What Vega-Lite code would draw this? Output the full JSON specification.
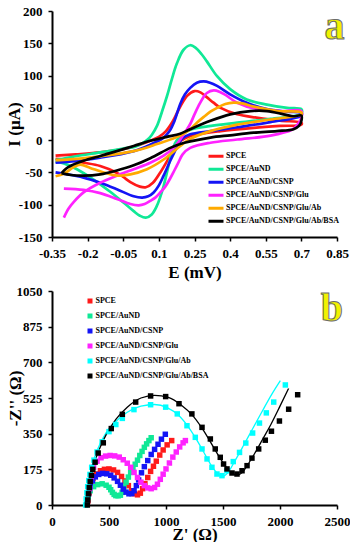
{
"$schema":"https://vega.github.io/schema/vega-lite/v6.json",
"padding":{"left":5,"top":5,"right":0,"bottom":0},
"background":"white",
"bounds":"flush",
"spacing":54,
"resolve":{"scale":{"color":"independent","stroke":"independent"},"legend":{"color":"independent"}},
"datasets":{
"cv":[
{"s":"SPCE","i":0,"E":-0.335,"I":-24},{"s":"SPCE","i":1,"E":-0.25,"I":-22},{"s":"SPCE","i":2,"E":-0.147,"I":-19},{"s":"SPCE","i":3,"E":-0.05,"I":-14},{"s":"SPCE","i":4,"E":0.02,"I":-7},{"s":"SPCE","i":5,"E":0.064,"I":-1},{"s":"SPCE","i":6,"E":0.1,"I":5},{"s":"SPCE","i":7,"E":0.13,"I":14},{"s":"SPCE","i":8,"E":0.16,"I":30},{"s":"SPCE","i":9,"E":0.19,"I":52},{"s":"SPCE","i":10,"E":0.22,"I":69},{"s":"SPCE","i":11,"E":0.25,"I":76},{"s":"SPCE","i":12,"E":0.275,"I":74},{"s":"SPCE","i":13,"E":0.3,"I":67},{"s":"SPCE","i":14,"E":0.33,"I":58},{"s":"SPCE","i":15,"E":0.36,"I":50},{"s":"SPCE","i":16,"E":0.43,"I":40},{"s":"SPCE","i":17,"E":0.51,"I":35},{"s":"SPCE","i":18,"E":0.61,"I":30},{"s":"SPCE","i":19,"E":0.7,"I":27},
{"s":"SPCE","i":20,"E":0.7,"I":24},{"s":"SPCE","i":21,"E":0.61,"I":22},{"s":"SPCE","i":22,"E":0.5,"I":19},{"s":"SPCE","i":23,"E":0.36,"I":14},{"s":"SPCE","i":24,"E":0.25,"I":8},{"s":"SPCE","i":25,"E":0.21,"I":3},{"s":"SPCE","i":26,"E":0.183,"I":-4},{"s":"SPCE","i":27,"E":0.148,"I":-24},{"s":"SPCE","i":28,"E":0.106,"I":-50},{"s":"SPCE","i":29,"E":0.075,"I":-66},{"s":"SPCE","i":30,"E":0.045,"I":-73},{"s":"SPCE","i":31,"E":0.02,"I":-72},{"s":"SPCE","i":32,"E":-0.02,"I":-65},{"s":"SPCE","i":33,"E":-0.05,"I":-57},{"s":"SPCE","i":34,"E":-0.08,"I":-50},{"s":"SPCE","i":35,"E":-0.147,"I":-40},{"s":"SPCE","i":36,"E":-0.217,"I":-35},{"s":"SPCE","i":37,"E":-0.3,"I":-30},{"s":"SPCE","i":38,"E":-0.335,"I":-29},
{"s":"SPCE/AuND","i":0,"E":-0.335,"I":-31},{"s":"SPCE/AuND","i":1,"E":-0.25,"I":-25},{"s":"SPCE/AuND","i":2,"E":-0.147,"I":-19},{"s":"SPCE/AuND","i":3,"E":-0.05,"I":-13},{"s":"SPCE/AuND","i":4,"E":0.0,"I":-10},{"s":"SPCE/AuND","i":5,"E":0.03,"I":-5},{"s":"SPCE/AuND","i":6,"E":0.05,"I":0},{"s":"SPCE/AuND","i":7,"E":0.07,"I":8},{"s":"SPCE/AuND","i":8,"E":0.092,"I":22},{"s":"SPCE/AuND","i":9,"E":0.113,"I":44},{"s":"SPCE/AuND","i":10,"E":0.134,"I":68},{"s":"SPCE/AuND","i":11,"E":0.155,"I":95},{"s":"SPCE/AuND","i":12,"E":0.176,"I":119},{"s":"SPCE/AuND","i":13,"E":0.204,"I":140},{"s":"SPCE/AuND","i":14,"E":0.232,"I":147},{"s":"SPCE/AuND","i":15,"E":0.255,"I":143},{"s":"SPCE/AuND","i":16,"E":0.28,"I":133},{"s":"SPCE/AuND","i":17,"E":0.302,"I":122},{"s":"SPCE/AuND","i":18,"E":0.345,"I":99},{"s":"SPCE/AuND","i":19,"E":0.4,"I":79},{"s":"SPCE/AuND","i":20,"E":0.47,"I":63},{"s":"SPCE/AuND","i":21,"E":0.555,"I":55},{"s":"SPCE/AuND","i":22,"E":0.64,"I":50},{"s":"SPCE/AuND","i":23,"E":0.7,"I":48},
{"s":"SPCE/AuND","i":24,"E":0.7,"I":41},{"s":"SPCE/AuND","i":25,"E":0.57,"I":33},{"s":"SPCE/AuND","i":26,"E":0.43,"I":27},{"s":"SPCE/AuND","i":27,"E":0.32,"I":22},{"s":"SPCE/AuND","i":28,"E":0.232,"I":16},{"s":"SPCE/AuND","i":29,"E":0.2,"I":9},{"s":"SPCE/AuND","i":30,"E":0.176,"I":0},{"s":"SPCE/AuND","i":31,"E":0.16,"I":-12},{"s":"SPCE/AuND","i":32,"E":0.148,"I":-28},{"s":"SPCE/AuND","i":33,"E":0.134,"I":-50},{"s":"SPCE/AuND","i":34,"E":0.12,"I":-71},{"s":"SPCE/AuND","i":35,"E":0.105,"I":-89},{"s":"SPCE/AuND","i":36,"E":0.09,"I":-103},{"s":"SPCE/AuND","i":37,"E":0.07,"I":-115},{"s":"SPCE/AuND","i":38,"E":0.045,"I":-120},{"s":"SPCE/AuND","i":39,"E":0.02,"I":-117},{"s":"SPCE/AuND","i":40,"E":-0.006,"I":-110},{"s":"SPCE/AuND","i":41,"E":-0.048,"I":-97},{"s":"SPCE/AuND","i":42,"E":-0.105,"I":-80},{"s":"SPCE/AuND","i":43,"E":-0.175,"I":-61},{"s":"SPCE/AuND","i":44,"E":-0.245,"I":-45},{"s":"SPCE/AuND","i":45,"E":-0.3,"I":-36},{"s":"SPCE/AuND","i":46,"E":-0.335,"I":-33},
{"s":"SPCE/AuND/CSNP","i":0,"E":-0.335,"I":-35},{"s":"SPCE/AuND/CSNP","i":1,"E":-0.3,"I":-34},{"s":"SPCE/AuND/CSNP","i":2,"E":-0.147,"I":-27},{"s":"SPCE/AuND/CSNP","i":3,"E":-0.006,"I":-17},{"s":"SPCE/AuND/CSNP","i":4,"E":0.064,"I":-7},{"s":"SPCE/AuND/CSNP","i":5,"E":0.12,"I":4},{"s":"SPCE/AuND/CSNP","i":6,"E":0.145,"I":14},{"s":"SPCE/AuND/CSNP","i":7,"E":0.165,"I":29},{"s":"SPCE/AuND/CSNP","i":8,"E":0.19,"I":56},{"s":"SPCE/AuND/CSNP","i":9,"E":0.21,"I":71},{"s":"SPCE/AuND/CSNP","i":10,"E":0.232,"I":81},{"s":"SPCE/AuND/CSNP","i":11,"E":0.26,"I":89},{"s":"SPCE/AuND/CSNP","i":12,"E":0.289,"I":91},{"s":"SPCE/AuND/CSNP","i":13,"E":0.315,"I":89},{"s":"SPCE/AuND/CSNP","i":14,"E":0.345,"I":84},{"s":"SPCE/AuND/CSNP","i":15,"E":0.4,"I":71},{"s":"SPCE/AuND/CSNP","i":16,"E":0.47,"I":58},{"s":"SPCE/AuND/CSNP","i":17,"E":0.555,"I":48},{"s":"SPCE/AuND/CSNP","i":18,"E":0.64,"I":44},{"s":"SPCE/AuND/CSNP","i":19,"E":0.7,"I":42},
{"s":"SPCE/AuND/CSNP","i":20,"E":0.7,"I":38},{"s":"SPCE/AuND/CSNP","i":21,"E":0.57,"I":28},{"s":"SPCE/AuND/CSNP","i":22,"E":0.43,"I":20},{"s":"SPCE/AuND/CSNP","i":23,"E":0.317,"I":14},{"s":"SPCE/AuND/CSNP","i":24,"E":0.232,"I":9},{"s":"SPCE/AuND/CSNP","i":25,"E":0.2,"I":3},{"s":"SPCE/AuND/CSNP","i":26,"E":0.183,"I":-6},{"s":"SPCE/AuND/CSNP","i":27,"E":0.165,"I":-19},{"s":"SPCE/AuND/CSNP","i":28,"E":0.148,"I":-32},{"s":"SPCE/AuND/CSNP","i":29,"E":0.12,"I":-55},{"s":"SPCE/AuND/CSNP","i":30,"E":0.1,"I":-70},{"s":"SPCE/AuND/CSNP","i":31,"E":0.078,"I":-81},{"s":"SPCE/AuND/CSNP","i":32,"E":0.055,"I":-87},{"s":"SPCE/AuND/CSNP","i":33,"E":0.03,"I":-89},{"s":"SPCE/AuND/CSNP","i":34,"E":-0.006,"I":-87},{"s":"SPCE/AuND/CSNP","i":35,"E":-0.077,"I":-76},{"s":"SPCE/AuND/CSNP","i":36,"E":-0.147,"I":-66},{"s":"SPCE/AuND/CSNP","i":37,"E":-0.217,"I":-58},{"s":"SPCE/AuND/CSNP","i":38,"E":-0.3,"I":-52},{"s":"SPCE/AuND/CSNP","i":39,"E":-0.335,"I":-50},
{"s":"SPCE/AuND/CSNP/Glu","i":0,"E":-0.3,"I":-120},{"s":"SPCE/AuND/CSNP/Glu","i":1,"E":-0.28,"I":-106},{"s":"SPCE/AuND/CSNP/Glu","i":2,"E":-0.259,"I":-96},{"s":"SPCE/AuND/CSNP/Glu","i":3,"E":-0.217,"I":-81},{"s":"SPCE/AuND/CSNP/Glu","i":4,"E":-0.147,"I":-66},{"s":"SPCE/AuND/CSNP/Glu","i":5,"E":-0.077,"I":-55},{"s":"SPCE/AuND/CSNP/Glu","i":6,"E":-0.006,"I":-45},{"s":"SPCE/AuND/CSNP/Glu","i":7,"E":0.064,"I":-35},{"s":"SPCE/AuND/CSNP/Glu","i":8,"E":0.12,"I":-24},{"s":"SPCE/AuND/CSNP/Glu","i":9,"E":0.162,"I":-12},{"s":"SPCE/AuND/CSNP/Glu","i":10,"E":0.19,"I":1},{"s":"SPCE/AuND/CSNP/Glu","i":11,"E":0.21,"I":12},{"s":"SPCE/AuND/CSNP/Glu","i":12,"E":0.232,"I":25},{"s":"SPCE/AuND/CSNP/Glu","i":13,"E":0.25,"I":40},{"s":"SPCE/AuND/CSNP/Glu","i":14,"E":0.267,"I":53},{"s":"SPCE/AuND/CSNP/Glu","i":15,"E":0.285,"I":65},{"s":"SPCE/AuND/CSNP/Glu","i":16,"E":0.302,"I":73},{"s":"SPCE/AuND/CSNP/Glu","i":17,"E":0.331,"I":77},{"s":"SPCE/AuND/CSNP/Glu","i":18,"E":0.355,"I":75},{"s":"SPCE/AuND/CSNP/Glu","i":19,"E":0.38,"I":70},{"s":"SPCE/AuND/CSNP/Glu","i":20,"E":0.43,"I":58},{"s":"SPCE/AuND/CSNP/Glu","i":21,"E":0.513,"I":48},{"s":"SPCE/AuND/CSNP/Glu","i":22,"E":0.611,"I":45},{"s":"SPCE/AuND/CSNP/Glu","i":23,"E":0.7,"I":45},
{"s":"SPCE/AuND/CSNP/Glu","i":24,"E":0.7,"I":35},{"s":"SPCE/AuND/CSNP/Glu","i":25,"E":0.68,"I":22},{"s":"SPCE/AuND/CSNP/Glu","i":26,"E":0.66,"I":16},{"s":"SPCE/AuND/CSNP/Glu","i":27,"E":0.57,"I":7},{"s":"SPCE/AuND/CSNP/Glu","i":28,"E":0.43,"I":1},{"s":"SPCE/AuND/CSNP/Glu","i":29,"E":0.317,"I":-4},{"s":"SPCE/AuND/CSNP/Glu","i":30,"E":0.232,"I":-12},{"s":"SPCE/AuND/CSNP/Glu","i":31,"E":0.2,"I":-22},{"s":"SPCE/AuND/CSNP/Glu","i":32,"E":0.183,"I":-34},{"s":"SPCE/AuND/CSNP/Glu","i":33,"E":0.165,"I":-47},{"s":"SPCE/AuND/CSNP/Glu","i":34,"E":0.148,"I":-59},{"s":"SPCE/AuND/CSNP/Glu","i":35,"E":0.127,"I":-72},{"s":"SPCE/AuND/CSNP/Glu","i":36,"E":0.106,"I":-81},{"s":"SPCE/AuND/CSNP/Glu","i":37,"E":0.085,"I":-89},{"s":"SPCE/AuND/CSNP/Glu","i":38,"E":0.064,"I":-94},{"s":"SPCE/AuND/CSNP/Glu","i":39,"E":0.04,"I":-99},{"s":"SPCE/AuND/CSNP/Glu","i":40,"E":0.015,"I":-101},{"s":"SPCE/AuND/CSNP/Glu","i":41,"E":-0.02,"I":-99},{"s":"SPCE/AuND/CSNP/Glu","i":42,"E":-0.077,"I":-91},{"s":"SPCE/AuND/CSNP/Glu","i":43,"E":-0.147,"I":-82},{"s":"SPCE/AuND/CSNP/Glu","i":44,"E":-0.217,"I":-77},{"s":"SPCE/AuND/CSNP/Glu","i":45,"E":-0.3,"I":-75},
{"s":"SPCE/AuND/CSNP/Glu/Ab","i":0,"E":-0.335,"I":-31},{"s":"SPCE/AuND/CSNP/Glu/Ab","i":1,"E":-0.3,"I":-30.5},{"s":"SPCE/AuND/CSNP/Glu/Ab","i":2,"E":-0.147,"I":-25},{"s":"SPCE/AuND/CSNP/Glu/Ab","i":3,"E":-0.006,"I":-17},{"s":"SPCE/AuND/CSNP/Glu/Ab","i":4,"E":0.092,"I":-6},{"s":"SPCE/AuND/CSNP/Glu/Ab","i":5,"E":0.19,"I":7},{"s":"SPCE/AuND/CSNP/Glu/Ab","i":6,"E":0.232,"I":17},{"s":"SPCE/AuND/CSNP/Glu/Ab","i":7,"E":0.26,"I":27},{"s":"SPCE/AuND/CSNP/Glu/Ab","i":8,"E":0.289,"I":36},{"s":"SPCE/AuND/CSNP/Glu/Ab","i":9,"E":0.317,"I":44},{"s":"SPCE/AuND/CSNP/Glu/Ab","i":10,"E":0.345,"I":50},{"s":"SPCE/AuND/CSNP/Glu/Ab","i":11,"E":0.38,"I":56},{"s":"SPCE/AuND/CSNP/Glu/Ab","i":12,"E":0.415,"I":58},{"s":"SPCE/AuND/CSNP/Glu/Ab","i":13,"E":0.45,"I":57},{"s":"SPCE/AuND/CSNP/Glu/Ab","i":14,"E":0.5,"I":52},{"s":"SPCE/AuND/CSNP/Glu/Ab","i":15,"E":0.6,"I":45},{"s":"SPCE/AuND/CSNP/Glu/Ab","i":16,"E":0.7,"I":43},
{"s":"SPCE/AuND/CSNP/Glu/Ab","i":17,"E":0.7,"I":40},{"s":"SPCE/AuND/CSNP/Glu/Ab","i":18,"E":0.57,"I":32},{"s":"SPCE/AuND/CSNP/Glu/Ab","i":19,"E":0.43,"I":24},{"s":"SPCE/AuND/CSNP/Glu/Ab","i":20,"E":0.317,"I":14},{"s":"SPCE/AuND/CSNP/Glu/Ab","i":21,"E":0.232,"I":2},{"s":"SPCE/AuND/CSNP/Glu/Ab","i":22,"E":0.19,"I":-9},{"s":"SPCE/AuND/CSNP/Glu/Ab","i":23,"E":0.12,"I":-30},{"s":"SPCE/AuND/CSNP/Glu/Ab","i":24,"E":0.05,"I":-45},{"s":"SPCE/AuND/CSNP/Glu/Ab","i":25,"E":-0.02,"I":-53},{"s":"SPCE/AuND/CSNP/Glu/Ab","i":26,"E":-0.077,"I":-55},{"s":"SPCE/AuND/CSNP/Glu/Ab","i":27,"E":-0.132,"I":-50},{"s":"SPCE/AuND/CSNP/Glu/Ab","i":28,"E":-0.189,"I":-43},{"s":"SPCE/AuND/CSNP/Glu/Ab","i":29,"E":-0.231,"I":-38},{"s":"SPCE/AuND/CSNP/Glu/Ab","i":30,"E":-0.26,"I":-42},{"s":"SPCE/AuND/CSNP/Glu/Ab","i":31,"E":-0.3,"I":-52},{"s":"SPCE/AuND/CSNP/Glu/Ab","i":32,"E":-0.335,"I":-56},
{"s":"SPCE/AuND/CSNP/Glu/Ab/BSA","i":0,"E":-0.31,"I":-51},{"s":"SPCE/AuND/CSNP/Glu/Ab/BSA","i":1,"E":-0.29,"I":-44},{"s":"SPCE/AuND/CSNP/Glu/Ab/BSA","i":2,"E":-0.273,"I":-40},{"s":"SPCE/AuND/CSNP/Glu/Ab/BSA","i":3,"E":-0.217,"I":-32},{"s":"SPCE/AuND/CSNP/Glu/Ab/BSA","i":4,"E":-0.147,"I":-24.5},{"s":"SPCE/AuND/CSNP/Glu/Ab/BSA","i":5,"E":-0.077,"I":-17},{"s":"SPCE/AuND/CSNP/Glu/Ab/BSA","i":6,"E":-0.006,"I":-9},{"s":"SPCE/AuND/CSNP/Glu/Ab/BSA","i":7,"E":0.064,"I":-1},{"s":"SPCE/AuND/CSNP/Glu/Ab/BSA","i":8,"E":0.134,"I":5},{"s":"SPCE/AuND/CSNP/Glu/Ab/BSA","i":9,"E":0.19,"I":10},{"s":"SPCE/AuND/CSNP/Glu/Ab/BSA","i":10,"E":0.232,"I":17},{"s":"SPCE/AuND/CSNP/Glu/Ab/BSA","i":11,"E":0.317,"I":30},{"s":"SPCE/AuND/CSNP/Glu/Ab/BSA","i":12,"E":0.4,"I":40},{"s":"SPCE/AuND/CSNP/Glu/Ab/BSA","i":13,"E":0.485,"I":45},{"s":"SPCE/AuND/CSNP/Glu/Ab/BSA","i":14,"E":0.555,"I":45},{"s":"SPCE/AuND/CSNP/Glu/Ab/BSA","i":15,"E":0.625,"I":40},{"s":"SPCE/AuND/CSNP/Glu/Ab/BSA","i":16,"E":0.665,"I":37},{"s":"SPCE/AuND/CSNP/Glu/Ab/BSA","i":17,"E":0.7,"I":38},
{"s":"SPCE/AuND/CSNP/Glu/Ab/BSA","i":18,"E":0.7,"I":30},{"s":"SPCE/AuND/CSNP/Glu/Ab/BSA","i":19,"E":0.69,"I":22},{"s":"SPCE/AuND/CSNP/Glu/Ab/BSA","i":20,"E":0.667,"I":17},{"s":"SPCE/AuND/CSNP/Glu/Ab/BSA","i":21,"E":0.597,"I":14},{"s":"SPCE/AuND/CSNP/Glu/Ab/BSA","i":22,"E":0.5,"I":11.5},{"s":"SPCE/AuND/CSNP/Glu/Ab/BSA","i":23,"E":0.4,"I":7.5},{"s":"SPCE/AuND/CSNP/Glu/Ab/BSA","i":24,"E":0.317,"I":4},{"s":"SPCE/AuND/CSNP/Glu/Ab/BSA","i":25,"E":0.232,"I":-2},{"s":"SPCE/AuND/CSNP/Glu/Ab/BSA","i":26,"E":0.19,"I":-6},{"s":"SPCE/AuND/CSNP/Glu/Ab/BSA","i":27,"E":0.148,"I":-12},{"s":"SPCE/AuND/CSNP/Glu/Ab/BSA","i":28,"E":0.064,"I":-28},{"s":"SPCE/AuND/CSNP/Glu/Ab/BSA","i":29,"E":-0.006,"I":-39},{"s":"SPCE/AuND/CSNP/Glu/Ab/BSA","i":30,"E":-0.077,"I":-47},{"s":"SPCE/AuND/CSNP/Glu/Ab/BSA","i":31,"E":-0.147,"I":-53},{"s":"SPCE/AuND/CSNP/Glu/Ab/BSA","i":32,"E":-0.217,"I":-55},{"s":"SPCE/AuND/CSNP/Glu/Ab/BSA","i":33,"E":-0.27,"I":-54},{"s":"SPCE/AuND/CSNP/Glu/Ab/BSA","i":34,"E":-0.31,"I":-51}
],
"eis":[
{"e":"SPCE","Z":315,"Zi":20},{"e":"SPCE","Z":325,"Zi":60},{"e":"SPCE","Z":340,"Zi":100},{"e":"SPCE","Z":360,"Zi":130},{"e":"SPCE","Z":390,"Zi":152},{"e":"SPCE","Z":425,"Zi":168},{"e":"SPCE","Z":460,"Zi":175},{"e":"SPCE","Z":500,"Zi":177},{"e":"SPCE","Z":540,"Zi":172},{"e":"SPCE","Z":575,"Zi":160},{"e":"SPCE","Z":610,"Zi":140},{"e":"SPCE","Z":640,"Zi":118},{"e":"SPCE","Z":670,"Zi":95},{"e":"SPCE","Z":700,"Zi":70},{"e":"SPCE","Z":725,"Zi":55},{"e":"SPCE","Z":750,"Zi":50},{"e":"SPCE","Z":775,"Zi":58},{"e":"SPCE","Z":795,"Zi":80},{"e":"SPCE","Z":815,"Zi":105},{"e":"SPCE","Z":840,"Zi":135},{"e":"SPCE","Z":865,"Zi":165},{"e":"SPCE","Z":890,"Zi":190},{"e":"SPCE","Z":915,"Zi":215},{"e":"SPCE","Z":945,"Zi":245},{"e":"SPCE","Z":975,"Zi":270},{"e":"SPCE","Z":1010,"Zi":295},{"e":"SPCE","Z":1050,"Zi":316},
{"e":"SPCE/AuND","Z":305,"Zi":10},{"e":"SPCE/AuND","Z":318,"Zi":40},{"e":"SPCE/AuND","Z":335,"Zi":70},{"e":"SPCE/AuND","Z":365,"Zi":90},{"e":"SPCE/AuND","Z":400,"Zi":100},{"e":"SPCE/AuND","Z":440,"Zi":104},{"e":"SPCE/AuND","Z":475,"Zi":97},{"e":"SPCE/AuND","Z":500,"Zi":87},{"e":"SPCE/AuND","Z":515,"Zi":75},{"e":"SPCE/AuND","Z":530,"Zi":62},{"e":"SPCE/AuND","Z":545,"Zi":52},{"e":"SPCE/AuND","Z":560,"Zi":46},{"e":"SPCE/AuND","Z":580,"Zi":45},{"e":"SPCE/AuND","Z":600,"Zi":48},{"e":"SPCE/AuND","Z":615,"Zi":62},{"e":"SPCE/AuND","Z":631,"Zi":88},{"e":"SPCE/AuND","Z":650,"Zi":112},{"e":"SPCE/AuND","Z":670,"Zi":137},{"e":"SPCE/AuND","Z":690,"Zi":160},{"e":"SPCE/AuND","Z":710,"Zi":180},{"e":"SPCE/AuND","Z":730,"Zi":200},{"e":"SPCE/AuND","Z":750,"Zi":220},{"e":"SPCE/AuND","Z":770,"Zi":243},{"e":"SPCE/AuND","Z":790,"Zi":263},{"e":"SPCE/AuND","Z":810,"Zi":283},{"e":"SPCE/AuND","Z":830,"Zi":300},{"e":"SPCE/AuND","Z":850,"Zi":316},{"e":"SPCE/AuND","Z":870,"Zi":330},
{"e":"SPCE/AuND/CSNP","Z":310,"Zi":20},{"e":"SPCE/AuND/CSNP","Z":320,"Zi":55},{"e":"SPCE/AuND/CSNP","Z":335,"Zi":90},{"e":"SPCE/AuND/CSNP","Z":355,"Zi":118},{"e":"SPCE/AuND/CSNP","Z":380,"Zi":138},{"e":"SPCE/AuND/CSNP","Z":410,"Zi":150},{"e":"SPCE/AuND/CSNP","Z":445,"Zi":155},{"e":"SPCE/AuND/CSNP","Z":480,"Zi":153},{"e":"SPCE/AuND/CSNP","Z":515,"Zi":146},{"e":"SPCE/AuND/CSNP","Z":545,"Zi":133},{"e":"SPCE/AuND/CSNP","Z":575,"Zi":116},{"e":"SPCE/AuND/CSNP","Z":600,"Zi":97},{"e":"SPCE/AuND/CSNP","Z":625,"Zi":78},{"e":"SPCE/AuND/CSNP","Z":650,"Zi":63},{"e":"SPCE/AuND/CSNP","Z":675,"Zi":55},{"e":"SPCE/AuND/CSNP","Z":700,"Zi":56},{"e":"SPCE/AuND/CSNP","Z":720,"Zi":70},{"e":"SPCE/AuND/CSNP","Z":740,"Zi":95},{"e":"SPCE/AuND/CSNP","Z":760,"Zi":123},{"e":"SPCE/AuND/CSNP","Z":785,"Zi":158},{"e":"SPCE/AuND/CSNP","Z":810,"Zi":188},{"e":"SPCE/AuND/CSNP","Z":840,"Zi":218},{"e":"SPCE/AuND/CSNP","Z":870,"Zi":248},{"e":"SPCE/AuND/CSNP","Z":900,"Zi":273},{"e":"SPCE/AuND/CSNP","Z":930,"Zi":298},{"e":"SPCE/AuND/CSNP","Z":960,"Zi":323},{"e":"SPCE/AuND/CSNP","Z":994,"Zi":347},
{"e":"SPCE/AuND/CSNP/Glu","Z":330,"Zi":80},{"e":"SPCE/AuND/CSNP/Glu","Z":345,"Zi":140},{"e":"SPCE/AuND/CSNP/Glu","Z":365,"Zi":185},{"e":"SPCE/AuND/CSNP/Glu","Z":395,"Zi":215},{"e":"SPCE/AuND/CSNP/Glu","Z":430,"Zi":232},{"e":"SPCE/AuND/CSNP/Glu","Z":470,"Zi":240},{"e":"SPCE/AuND/CSNP/Glu","Z":510,"Zi":243},{"e":"SPCE/AuND/CSNP/Glu","Z":550,"Zi":241},{"e":"SPCE/AuND/CSNP/Glu","Z":590,"Zi":235},{"e":"SPCE/AuND/CSNP/Glu","Z":625,"Zi":222},{"e":"SPCE/AuND/CSNP/Glu","Z":660,"Zi":205},{"e":"SPCE/AuND/CSNP/Glu","Z":690,"Zi":185},{"e":"SPCE/AuND/CSNP/Glu","Z":720,"Zi":160},{"e":"SPCE/AuND/CSNP/Glu","Z":750,"Zi":135},{"e":"SPCE/AuND/CSNP/Glu","Z":780,"Zi":112},{"e":"SPCE/AuND/CSNP/Glu","Z":810,"Zi":95},{"e":"SPCE/AuND/CSNP/Glu","Z":840,"Zi":84},{"e":"SPCE/AuND/CSNP/Glu","Z":870,"Zi":80},{"e":"SPCE/AuND/CSNP/Glu","Z":900,"Zi":86},{"e":"SPCE/AuND/CSNP/Glu","Z":925,"Zi":102},{"e":"SPCE/AuND/CSNP/Glu","Z":950,"Zi":126},{"e":"SPCE/AuND/CSNP/Glu","Z":975,"Zi":151},{"e":"SPCE/AuND/CSNP/Glu","Z":1000,"Zi":177},{"e":"SPCE/AuND/CSNP/Glu","Z":1030,"Zi":206},{"e":"SPCE/AuND/CSNP/Glu","Z":1060,"Zi":235},{"e":"SPCE/AuND/CSNP/Glu","Z":1090,"Zi":260},{"e":"SPCE/AuND/CSNP/Glu","Z":1120,"Zi":285},{"e":"SPCE/AuND/CSNP/Glu","Z":1150,"Zi":305},{"e":"SPCE/AuND/CSNP/Glu","Z":1170,"Zi":316},
{"e":"SPCE/AuND/CSNP/Glu/Ab","Z":295,"Zi":0},{"e":"SPCE/AuND/CSNP/Glu/Ab","Z":300,"Zi":30},{"e":"SPCE/AuND/CSNP/Glu/Ab","Z":306,"Zi":60},{"e":"SPCE/AuND/CSNP/Glu/Ab","Z":313,"Zi":90},{"e":"SPCE/AuND/CSNP/Glu/Ab","Z":322,"Zi":120},{"e":"SPCE/AuND/CSNP/Glu/Ab","Z":333,"Zi":150},{"e":"SPCE/AuND/CSNP/Glu/Ab","Z":348,"Zi":185},{"e":"SPCE/AuND/CSNP/Glu/Ab","Z":368,"Zi":220},{"e":"SPCE/AuND/CSNP/Glu/Ab","Z":395,"Zi":260},{"e":"SPCE/AuND/CSNP/Glu/Ab","Z":440,"Zi":310},{"e":"SPCE/AuND/CSNP/Glu/Ab","Z":500,"Zi":360},{"e":"SPCE/AuND/CSNP/Glu/Ab","Z":560,"Zi":395},{"e":"SPCE/AuND/CSNP/Glu/Ab","Z":617,"Zi":425},{"e":"SPCE/AuND/CSNP/Glu/Ab","Z":719,"Zi":468},{"e":"SPCE/AuND/CSNP/Glu/Ab","Z":865,"Zi":492},{"e":"SPCE/AuND/CSNP/Glu/Ab","Z":997,"Zi":480},{"e":"SPCE/AuND/CSNP/Glu/Ab","Z":1099,"Zi":447},{"e":"SPCE/AuND/CSNP/Glu/Ab","Z":1184,"Zi":389},{"e":"SPCE/AuND/CSNP/Glu/Ab","Z":1257,"Zi":332},{"e":"SPCE/AuND/CSNP/Glu/Ab","Z":1316,"Zi":275},{"e":"SPCE/AuND/CSNP/Glu/Ab","Z":1360,"Zi":226},{"e":"SPCE/AuND/CSNP/Glu/Ab","Z":1403,"Zi":185},{"e":"SPCE/AuND/CSNP/Glu/Ab","Z":1447,"Zi":152},{"e":"SPCE/AuND/CSNP/Glu/Ab","Z":1491,"Zi":144},{"e":"SPCE/AuND/CSNP/Glu/Ab","Z":1535,"Zi":168},{"e":"SPCE/AuND/CSNP/Glu/Ab","Z":1590,"Zi":213},{"e":"SPCE/AuND/CSNP/Glu/Ab","Z":1645,"Zi":258},{"e":"SPCE/AuND/CSNP/Glu/Ab","Z":1700,"Zi":304},{"e":"SPCE/AuND/CSNP/Glu/Ab","Z":1760,"Zi":353},{"e":"SPCE/AuND/CSNP/Glu/Ab","Z":1820,"Zi":402},{"e":"SPCE/AuND/CSNP/Glu/Ab","Z":1880,"Zi":452},{"e":"SPCE/AuND/CSNP/Glu/Ab","Z":1945,"Zi":505},{"e":"SPCE/AuND/CSNP/Glu/Ab","Z":2047,"Zi":589},
{"e":"SPCE/AuND/CSNP/Glu/Ab/BSA","Z":310,"Zi":0},{"e":"SPCE/AuND/CSNP/Glu/Ab/BSA","Z":314,"Zi":25},{"e":"SPCE/AuND/CSNP/Glu/Ab/BSA","Z":320,"Zi":55},{"e":"SPCE/AuND/CSNP/Glu/Ab/BSA","Z":327,"Zi":85},{"e":"SPCE/AuND/CSNP/Glu/Ab/BSA","Z":335,"Zi":115},{"e":"SPCE/AuND/CSNP/Glu/Ab/BSA","Z":346,"Zi":145},{"e":"SPCE/AuND/CSNP/Glu/Ab/BSA","Z":358,"Zi":175},{"e":"SPCE/AuND/CSNP/Glu/Ab/BSA","Z":378,"Zi":210},{"e":"SPCE/AuND/CSNP/Glu/Ab/BSA","Z":405,"Zi":255},{"e":"SPCE/AuND/CSNP/Glu/Ab/BSA","Z":450,"Zi":305},{"e":"SPCE/AuND/CSNP/Glu/Ab/BSA","Z":520,"Zi":375},{"e":"SPCE/AuND/CSNP/Glu/Ab/BSA","Z":617,"Zi":445},{"e":"SPCE/AuND/CSNP/Glu/Ab/BSA","Z":734,"Zi":505},{"e":"SPCE/AuND/CSNP/Glu/Ab/BSA","Z":865,"Zi":535},{"e":"SPCE/AuND/CSNP/Glu/Ab/BSA","Z":997,"Zi":532},{"e":"SPCE/AuND/CSNP/Glu/Ab/BSA","Z":1114,"Zi":497},{"e":"SPCE/AuND/CSNP/Glu/Ab/BSA","Z":1227,"Zi":447},{"e":"SPCE/AuND/CSNP/Glu/Ab/BSA","Z":1316,"Zi":381},{"e":"SPCE/AuND/CSNP/Glu/Ab/BSA","Z":1389,"Zi":324},{"e":"SPCE/AuND/CSNP/Glu/Ab/BSA","Z":1432,"Zi":275},{"e":"SPCE/AuND/CSNP/Glu/Ab/BSA","Z":1476,"Zi":234},{"e":"SPCE/AuND/CSNP/Glu/Ab/BSA","Z":1505,"Zi":201},{"e":"SPCE/AuND/CSNP/Glu/Ab/BSA","Z":1535,"Zi":177},{"e":"SPCE/AuND/CSNP/Glu/Ab/BSA","Z":1579,"Zi":157},{"e":"SPCE/AuND/CSNP/Glu/Ab/BSA","Z":1623,"Zi":152},{"e":"SPCE/AuND/CSNP/Glu/Ab/BSA","Z":1667,"Zi":168},{"e":"SPCE/AuND/CSNP/Glu/Ab/BSA","Z":1711,"Zi":193},{"e":"SPCE/AuND/CSNP/Glu/Ab/BSA","Z":1754,"Zi":230},{"e":"SPCE/AuND/CSNP/Glu/Ab/BSA","Z":1813,"Zi":275},{"e":"SPCE/AuND/CSNP/Glu/Ab/BSA","Z":1871,"Zi":318},{"e":"SPCE/AuND/CSNP/Glu/Ab/BSA","Z":1925,"Zi":362},{"e":"SPCE/AuND/CSNP/Glu/Ab/BSA","Z":1995,"Zi":412},{"e":"SPCE/AuND/CSNP/Glu/Ab/BSA","Z":2076,"Zi":470},{"e":"SPCE/AuND/CSNP/Glu/Ab/BSA","Z":2155,"Zi":541}
],
"fit":[
{"f":"SPCE/AuND/CSNP/Glu/Ab","Z":295,"Zi":0},{"f":"SPCE/AuND/CSNP/Glu/Ab","Z":310,"Zi":70},{"f":"SPCE/AuND/CSNP/Glu/Ab","Z":330,"Zi":140},{"f":"SPCE/AuND/CSNP/Glu/Ab","Z":360,"Zi":210},{"f":"SPCE/AuND/CSNP/Glu/Ab","Z":405,"Zi":280},{"f":"SPCE/AuND/CSNP/Glu/Ab","Z":470,"Zi":350},{"f":"SPCE/AuND/CSNP/Glu/Ab","Z":560,"Zi":410},{"f":"SPCE/AuND/CSNP/Glu/Ab","Z":660,"Zi":455},{"f":"SPCE/AuND/CSNP/Glu/Ab","Z":780,"Zi":485},{"f":"SPCE/AuND/CSNP/Glu/Ab","Z":900,"Zi":493},{"f":"SPCE/AuND/CSNP/Glu/Ab","Z":1010,"Zi":478},{"f":"SPCE/AuND/CSNP/Glu/Ab","Z":1110,"Zi":440},{"f":"SPCE/AuND/CSNP/Glu/Ab","Z":1200,"Zi":380},{"f":"SPCE/AuND/CSNP/Glu/Ab","Z":1280,"Zi":310},{"f":"SPCE/AuND/CSNP/Glu/Ab","Z":1350,"Zi":240},{"f":"SPCE/AuND/CSNP/Glu/Ab","Z":1410,"Zi":183},{"f":"SPCE/AuND/CSNP/Glu/Ab","Z":1460,"Zi":150},{"f":"SPCE/AuND/CSNP/Glu/Ab","Z":1500,"Zi":142},{"f":"SPCE/AuND/CSNP/Glu/Ab","Z":1545,"Zi":160},{"f":"SPCE/AuND/CSNP/Glu/Ab","Z":1600,"Zi":212},{"f":"SPCE/AuND/CSNP/Glu/Ab","Z":1680,"Zi":292},{"f":"SPCE/AuND/CSNP/Glu/Ab","Z":1760,"Zi":374},{"f":"SPCE/AuND/CSNP/Glu/Ab","Z":1850,"Zi":466},{"f":"SPCE/AuND/CSNP/Glu/Ab","Z":1930,"Zi":545},{"f":"SPCE/AuND/CSNP/Glu/Ab","Z":2003,"Zi":610},
{"f":"SPCE/AuND/CSNP/Glu/Ab/BSA","Z":310,"Zi":0},{"f":"SPCE/AuND/CSNP/Glu/Ab/BSA","Z":325,"Zi":70},{"f":"SPCE/AuND/CSNP/Glu/Ab/BSA","Z":345,"Zi":140},{"f":"SPCE/AuND/CSNP/Glu/Ab/BSA","Z":375,"Zi":210},{"f":"SPCE/AuND/CSNP/Glu/Ab/BSA","Z":420,"Zi":280},{"f":"SPCE/AuND/CSNP/Glu/Ab/BSA","Z":480,"Zi":350},{"f":"SPCE/AuND/CSNP/Glu/Ab/BSA","Z":560,"Zi":420},{"f":"SPCE/AuND/CSNP/Glu/Ab/BSA","Z":660,"Zi":480},{"f":"SPCE/AuND/CSNP/Glu/Ab/BSA","Z":780,"Zi":525},{"f":"SPCE/AuND/CSNP/Glu/Ab/BSA","Z":900,"Zi":538},{"f":"SPCE/AuND/CSNP/Glu/Ab/BSA","Z":1020,"Zi":528},{"f":"SPCE/AuND/CSNP/Glu/Ab/BSA","Z":1130,"Zi":492},{"f":"SPCE/AuND/CSNP/Glu/Ab/BSA","Z":1240,"Zi":435},{"f":"SPCE/AuND/CSNP/Glu/Ab/BSA","Z":1330,"Zi":365},{"f":"SPCE/AuND/CSNP/Glu/Ab/BSA","Z":1410,"Zi":290},{"f":"SPCE/AuND/CSNP/Glu/Ab/BSA","Z":1480,"Zi":225},{"f":"SPCE/AuND/CSNP/Glu/Ab/BSA","Z":1540,"Zi":177},{"f":"SPCE/AuND/CSNP/Glu/Ab/BSA","Z":1590,"Zi":152},{"f":"SPCE/AuND/CSNP/Glu/Ab/BSA","Z":1630,"Zi":148},{"f":"SPCE/AuND/CSNP/Glu/Ab/BSA","Z":1670,"Zi":160},{"f":"SPCE/AuND/CSNP/Glu/Ab/BSA","Z":1720,"Zi":200},{"f":"SPCE/AuND/CSNP/Glu/Ab/BSA","Z":1780,"Zi":255},{"f":"SPCE/AuND/CSNP/Glu/Ab/BSA","Z":1850,"Zi":325},{"f":"SPCE/AuND/CSNP/Glu/Ab/BSA","Z":1920,"Zi":395},{"f":"SPCE/AuND/CSNP/Glu/Ab/BSA","Z":2000,"Zi":485},{"f":"SPCE/AuND/CSNP/Glu/Ab/BSA","Z":2076,"Zi":573}
]
},
"vconcat":[
{
"width":285,"height":226,
"layer":[
{"data":{"name":"cv"},
"mark":{"type":"line","interpolate":"catmull-rom","strokeWidth":2.7},
"encoding":{
"x":{"field":"E","type":"quantitative","scale":{"domain":[-0.35,0.85],"nice":false,"zero":false},
"axis":{"title":"E (mV)","values":[-0.35,-0.2,-0.05,0.1,0.25,0.4,0.55,0.7,0.85],"labelExpr":"toString(datum.value)","titleY":35,"titleBaseline":"middle","labelFont":"Liberation Serif","labelFontWeight":"bold","labelFontSize":13,"labelColor":"#000","labelPadding":6,"labelOverlap":false,"labelFlush":false,"labelBound":false,"titleFont":"Liberation Serif","titleFontWeight":"bold","titleFontSize":17,"titleColor":"#000","domainColor":"#000","domainWidth":2,"tickColor":"#000","tickWidth":1.5,"tickSize":4,"grid":false}},
"y":{"field":"I","type":"quantitative","scale":{"domain":[-150,200],"nice":false,"zero":false},
"axis":{"title":"I (µA)","values":[-150,-100,-50,0,50,100,150,200],"labelExpr":"toString(datum.value)","titleX":-38,"titleY":113,"titleBaseline":"middle","titleAlign":"center","titleAngle":-90,"labelFont":"Liberation Serif","labelFontWeight":"bold","labelFontSize":13,"labelColor":"#000","labelPadding":6,"labelOverlap":false,"labelFlush":false,"labelBound":false,"titleFont":"Liberation Serif","titleFontWeight":"bold","titleFontSize":17,"titleColor":"#000","domainColor":"#000","domainWidth":2,"tickColor":"#000","tickWidth":1.5,"tickSize":4,"grid":false}},
"color":{"field":"s","type":"nominal",
"scale":{"domain":["SPCE","SPCE/AuND","SPCE/AuND/CSNP","SPCE/AuND/CSNP/Glu","SPCE/AuND/CSNP/Glu/Ab","SPCE/AuND/CSNP/Glu/Ab/BSA"],"range":["#ff1a1a","#10e896","#1414f5","#ff22ff","#ffaa00","#000000"]},
"legend":{"title":null,"orient":"none","legendX":155,"legendY":139,"symbolType":"stroke","symbolSize":225,"symbolStrokeWidth":3,"clipHeight":12.4,"rowPadding":0,"labelOffset":1,"padding":0,"labelFont":"Liberation Serif","labelFontWeight":"bold","labelFontSize":8,"labelColor":"#000","labelLimit":300}},
"order":{"field":"i","type":"quantitative"}
}},
{"data":{"values":[{}]},
"mark":{"type":"text","font":"Liberation Serif","fontWeight":"bold","fontSize":40,"fill":"#f2f200","stroke":"#6b6b6b","strokeWidth":1,"align":"center","baseline":"alphabetic"},
"encoding":{
"x":{"datum":0.839,"type":"quantitative",
"axis":{"title":"E (mV)","values":[-0.35,-0.2,-0.05,0.1,0.25,0.4,0.55,0.7,0.85],"labelExpr":"toString(datum.value)","titleY":35,"titleBaseline":"middle","labelFont":"Liberation Serif","labelFontWeight":"bold","labelFontSize":13,"labelColor":"#000","labelPadding":6,"labelOverlap":false,"labelFlush":false,"labelBound":false,"titleFont":"Liberation Serif","titleFontWeight":"bold","titleFontSize":17,"titleColor":"#000","domainColor":"#000","domainWidth":2,"tickColor":"#000","tickWidth":1.5,"tickSize":4,"grid":false}},
"y":{"datum":156,"type":"quantitative",
"axis":{"title":"I (µA)","values":[-150,-100,-50,0,50,100,150,200],"labelExpr":"toString(datum.value)","titleX":-38,"titleY":113,"titleBaseline":"middle","titleAlign":"center","titleAngle":-90,"labelFont":"Liberation Serif","labelFontWeight":"bold","labelFontSize":13,"labelColor":"#000","labelPadding":6,"labelOverlap":false,"labelFlush":false,"labelBound":false,"titleFont":"Liberation Serif","titleFontWeight":"bold","titleFontSize":17,"titleColor":"#000","domainColor":"#000","domainWidth":2,"tickColor":"#000","tickWidth":1.5,"tickSize":4,"grid":false}},
"text":{"value":"a"}}}
]
},
{
"width":285,"height":214,
"layer":[
{"data":{"name":"fit"},
"mark":{"type":"line","interpolate":"monotone","strokeWidth":1.3},
"encoding":{
"x":{"field":"Z","type":"quantitative","scale":{"domain":[0,2500],"nice":false,"zero":false},
"axis":{"title":"Z' (Ω)","values":[0,500,1000,1500,2000,2500],"labelExpr":"toString(datum.value)","titleY":29,"titleBaseline":"middle","labelFont":"Liberation Serif","labelFontWeight":"bold","labelFontSize":13,"labelColor":"#000","labelPadding":6,"labelOverlap":false,"labelFlush":false,"labelBound":false,"titleFont":"Liberation Serif","titleFontWeight":"bold","titleFontSize":17,"titleColor":"#000","domainColor":"#000","domainWidth":2,"tickColor":"#000","tickWidth":1.5,"tickSize":4,"grid":false}},
"y":{"field":"Zi","type":"quantitative","scale":{"domain":[0,1050],"nice":false,"zero":false},
"axis":{"title":"-Z'' (Ω)","values":[0,175,350,525,700,875,1050],"labelExpr":"toString(datum.value)","titleX":-36.5,"titleY":107,"titleBaseline":"middle","titleAlign":"center","titleAngle":-90,"labelFont":"Liberation Serif","labelFontWeight":"bold","labelFontSize":13,"labelColor":"#000","labelPadding":6,"labelOverlap":false,"labelFlush":false,"labelBound":false,"titleFont":"Liberation Serif","titleFontWeight":"bold","titleFontSize":17,"titleColor":"#000","domainColor":"#000","domainWidth":2,"tickColor":"#000","tickWidth":1.5,"tickSize":4,"grid":false}},
"stroke":{"field":"f","type":"nominal","scale":{"domain":["SPCE/AuND/CSNP/Glu/Ab","SPCE/AuND/CSNP/Glu/Ab/BSA"],"range":["#00ffff","#000000"]},"legend":null}
}},
{"data":{"name":"eis"},
"mark":{"type":"point","shape":"square","filled":true,"size":30,"opacity":1},
"encoding":{
"x":{"field":"Z","type":"quantitative",
"axis":{"title":"Z' (Ω)","values":[0,500,1000,1500,2000,2500],"labelExpr":"toString(datum.value)","titleY":29,"titleBaseline":"middle","labelFont":"Liberation Serif","labelFontWeight":"bold","labelFontSize":13,"labelColor":"#000","labelPadding":6,"labelOverlap":false,"labelFlush":false,"labelBound":false,"titleFont":"Liberation Serif","titleFontWeight":"bold","titleFontSize":17,"titleColor":"#000","domainColor":"#000","domainWidth":2,"tickColor":"#000","tickWidth":1.5,"tickSize":4,"grid":false}},
"y":{"field":"Zi","type":"quantitative",
"axis":{"title":"-Z'' (Ω)","values":[0,175,350,525,700,875,1050],"labelExpr":"toString(datum.value)","titleX":-36.5,"titleY":107,"titleBaseline":"middle","titleAlign":"center","titleAngle":-90,"labelFont":"Liberation Serif","labelFontWeight":"bold","labelFontSize":13,"labelColor":"#000","labelPadding":6,"labelOverlap":false,"labelFlush":false,"labelBound":false,"titleFont":"Liberation Serif","titleFontWeight":"bold","titleFontSize":17,"titleColor":"#000","domainColor":"#000","domainWidth":2,"tickColor":"#000","tickWidth":1.5,"tickSize":4,"grid":false}},
"color":{"field":"e","type":"nominal",
"scale":{"domain":["SPCE","SPCE/AuND","SPCE/AuND/CSNP","SPCE/AuND/CSNP/Glu","SPCE/AuND/CSNP/Glu/Ab","SPCE/AuND/CSNP/Glu/Ab/BSA"],"range":["#ff1a1a","#10e896","#1414f5","#ff22ff","#00ffff","#000000"]},
"legend":{"title":null,"orient":"none","legendX":34,"legendY":3,"symbolType":"square","symbolSize":25,"symbolStrokeWidth":0,"clipHeight":14.2,"rowPadding":0,"labelOffset":1.5,"padding":0,"labelFont":"Liberation Serif","labelFontWeight":"bold","labelFontSize":8,"labelColor":"#000","labelLimit":300}}
}},
{"data":{"values":[{}]},
"mark":{"type":"text","font":"Liberation Serif","fontWeight":"bold","fontSize":40,"fill":"#f2f200","stroke":"#6b6b6b","strokeWidth":1,"align":"center","baseline":"alphabetic"},
"encoding":{
"x":{"datum":2456,"type":"quantitative",
"axis":{"title":"Z' (Ω)","values":[0,500,1000,1500,2000,2500],"labelExpr":"toString(datum.value)","titleY":29,"titleBaseline":"middle","labelFont":"Liberation Serif","labelFontWeight":"bold","labelFontSize":13,"labelColor":"#000","labelPadding":6,"labelOverlap":false,"labelFlush":false,"labelBound":false,"titleFont":"Liberation Serif","titleFontWeight":"bold","titleFontSize":17,"titleColor":"#000","domainColor":"#000","domainWidth":2,"tickColor":"#000","tickWidth":1.5,"tickSize":4,"grid":false}},
"y":{"datum":904,"type":"quantitative",
"axis":{"title":"-Z'' (Ω)","values":[0,175,350,525,700,875,1050],"labelExpr":"toString(datum.value)","titleX":-36.5,"titleY":107,"titleBaseline":"middle","titleAlign":"center","titleAngle":-90,"labelFont":"Liberation Serif","labelFontWeight":"bold","labelFontSize":13,"labelColor":"#000","labelPadding":6,"labelOverlap":false,"labelFlush":false,"labelBound":false,"titleFont":"Liberation Serif","titleFontWeight":"bold","titleFontSize":17,"titleColor":"#000","domainColor":"#000","domainWidth":2,"tickColor":"#000","tickWidth":1.5,"tickSize":4,"grid":false}},
"text":{"value":"b"}}}
]
}
],
"config":{
"view":{"stroke":null},
"font":"Liberation Serif"
}
}
